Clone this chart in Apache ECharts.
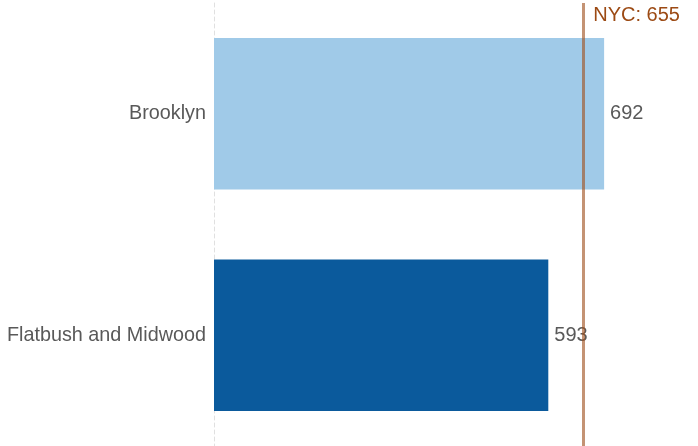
<!DOCTYPE html>
<html><head><meta charset="utf-8">
<script src="https://cdn.jsdelivr.net/npm/echarts@6/dist/echarts.min.js"></script>
<style>html,body{margin:0;padding:0;background:#fff}#c{width:698px;height:446px}</style>
</head><body><div id="c"></div>
<script>
const categories = ['Brooklyn', 'Flatbush and Midwood'];
const values = [692, 593];
const barColors = ['#a0cae8', '#0b5a9c'];
const refLabel = 'NYC';
const refValue = 655;

const chart = echarts.init(document.getElementById('c'));
const font = 'Liberation Sans, Arial, sans-serif';
chart.setOption({
  animation: false,
  textStyle: { fontFamily: font },
  grid: { left: 214, right: 33, top: 3, bottom: -1, containLabel: false },
  xAxis: {
    type: 'value', min: 0, max: 800,
    axisLine: { show: false }, axisTick: { show: false },
    axisLabel: { show: false }, splitLine: { show: false }
  },
  yAxis: {
    type: 'category', data: categories, inverse: true,
    axisLine: { show: true, lineStyle: { color: '#e0e0e0', type: [4, 3], width: 1 } },
    axisTick: { show: false },
    axisLabel: { color: '#595959', fontSize: 19.8, margin: 8 }
  },
  series: [{
    type: 'bar',
    barCategoryGap: '31.5%',
    data: values.map((v, i) => ({ value: v, itemStyle: { color: barColors[i] } })),
    label: { show: true, position: 'right', distance: 6, color: '#595959', fontSize: 20 },
    markLine: {
      silent: true, symbol: 'none',
      lineStyle: { color: '#a0501e', opacity: 0.62, width: 3, type: 'solid' },
      label: { show: false },
      data: [{ xAxis: refValue }]
    }
  }]
});
const px = chart.convertToPixel({ xAxisIndex: 0 }, refValue);
chart.setOption({
  graphic: [{
    type: 'text', left: px + 10, top: 5,
    style: { text: refLabel + ': ' + refValue, fill: '#9c4a14', font: '20px ' + font }
  }]
});
</script></body></html>
